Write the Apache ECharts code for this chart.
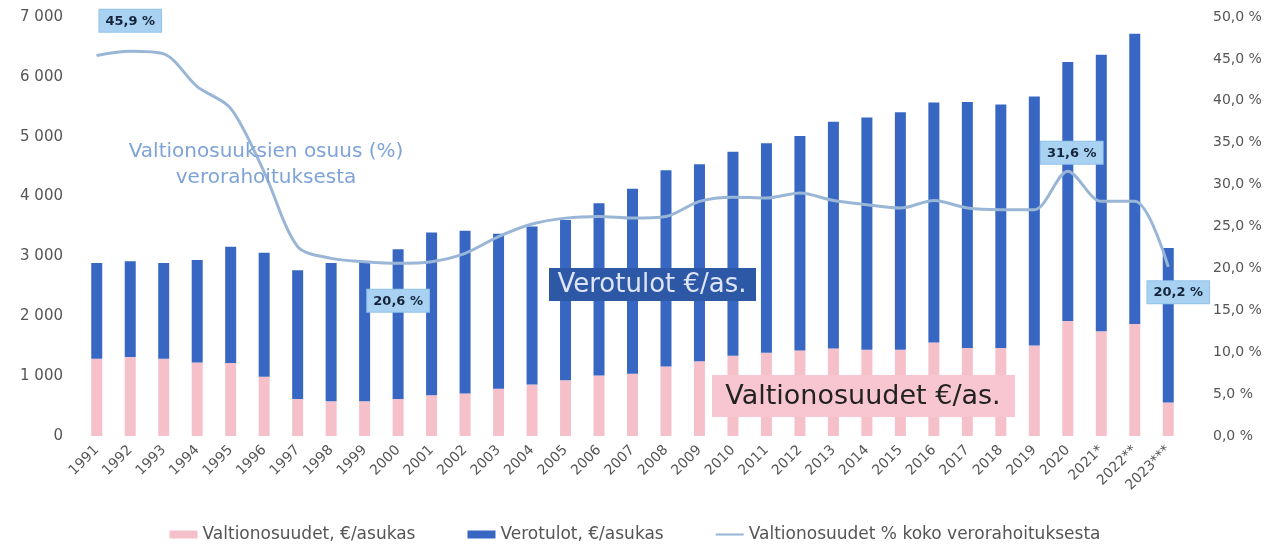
<!DOCTYPE html>
<html><head><meta charset="utf-8">
<script src="https://cdn.jsdelivr.net/npm/echarts@6/dist/echarts.min.js"></script>
<style>html,body{margin:0;padding:0;background:#fff}#c{width:1270px;height:552px}</style>
</head><body><div id="c"></div>
<script>
const categories = ['1991','1992','1993','1994','1995','1996','1997','1998','1999','2000','2001','2002','2003','2004','2005','2006','2007','2008','2009','2010','2011','2012','2013','2014','2015','2016','2017','2018','2019','2020','2021*','2022**','2023***'];
const valtionosuudet = [1290,1320,1290,1230,1220,990,620,580,580,620,680,710,790,860,930,1010,1040,1160,1250,1340,1390,1430,1460,1440,1440,1560,1470,1470,1510,1920,1750,1870,560];
const verotulot = [1600,1600,1600,1710,1940,2070,2150,2310,2340,2500,2720,2720,2590,2640,2680,2880,3090,3280,3290,3410,3500,3580,3790,3880,3970,4010,4110,4070,4160,4330,4620,4850,2580];
const osuusPct = [45.4,45.9,45.6,41.7,39.1,31.5,22.6,21.2,20.8,20.6,20.8,21.8,23.8,25.3,26.0,26.2,26.0,26.2,28.0,28.5,28.4,29.0,28.1,27.6,27.2,28.1,27.2,27.0,27.0,31.6,28.0,28.0,20.2];
const leftTicks = [0,1000,2000,3000,4000,5000,6000,7000];
const rightTicks = [0,5,10,15,20,25,30,35,40,45,50];
const labelled = {1:{pos:'top',dist:19,off:[0,0]},9:{pos:'bottom',dist:26,off:[0,0]},29:{pos:'top',dist:7,off:[4,0]},32:{pos:'bottom',dist:14,off:[10,0]}};

const FONT = 'DejaVu Sans';
const fmtPct = v => v.toFixed(1).replace('.', ',') + ' %';
const fmtThousand = v => String(v).replace(/\B(?=(\d{3})+(?!\d))/g, ' ');

const lineData = osuusPct.map((v,i) => {
  const l = labelled[i];
  if (!l) return v;
  return {value: v, label: {show: true, position: l.pos, distance: l.dist, offset: l.off,
    formatter: p => fmtPct(p.value), color: '#14243a', fontWeight: 'bold', fontSize: 13,
    fontFamily: FONT, backgroundColor: '#a9d1f2', borderColor: '#93c3ea', borderWidth: 1, padding: [5,6,4,6]}};
});

const chart = echarts.init(document.getElementById('c'));
chart.setOption({
  animation: false,
  textStyle: {fontFamily: FONT},
  grid: {left: 80, right: 85, top: 17, bottom: 116},
  legend: {
    bottom: 4, left: 'center', itemGap: 52, itemWidth: 28, itemHeight: 8,
    textStyle: {color: '#555', fontSize: 17, fontFamily: FONT},
    data: [{name: 'Valtionosuudet, €/asukas', icon: 'rect'}, {name: 'Verotulot, €/asukas', icon: 'rect'},
           {name: 'Valtionosuudet % koko verorahoituksesta', icon: 'path://M0,0 L40,0 L40,3 L0,3 Z'}]
  },
  xAxis: {
    type: 'category', data: categories,
    axisLine: {show: false}, axisTick: {show: false},
    axisLabel: {rotate: 45, color: '#555', fontSize: 14, margin: 12, interval: 0, fontFamily: FONT}
  },
  yAxis: [
    {type: 'value', min: 0, max: 7000, interval: 1000, splitLine: {show: false},
     axisLabel: {color: '#555', fontSize: 15, margin: 17, fontFamily: FONT, formatter: v => fmtThousand(v)}},
    {type: 'value', min: 0, max: 50, interval: 5, splitLine: {show: false},
     axisLabel: {color: '#555', fontSize: 14, margin: 28, fontFamily: FONT, formatter: v => fmtPct(v)}}
  ],
  series: [
    {name: 'Valtionosuudet, €/asukas', type: 'bar', stack: 'a', data: valtionosuudet, barWidth: 11,
     itemStyle: {color: '#f6c0cb'}},
    {name: 'Verotulot, €/asukas', type: 'bar', stack: 'a', data: verotulot, barWidth: 11,
     itemStyle: {color: '#3767c2'}},
    {name: 'Valtionosuudet % koko verorahoituksesta', type: 'line', yAxisIndex: 1, data: lineData,
     smooth: 0.3, symbol: 'circle', symbolSize: 1, showSymbol: true, showAllSymbol: true,
     lineStyle: {color: '#9ab6d6', width: 3}, itemStyle: {color: '#9ab6d6'}, z: 5}
  ],
  graphic: [
    {type: 'text', x: 266, y: 165, z: 100, style: {text: 'Valtionosuuksien osuus (%)\nverorahoituksesta', fill: '#7ea3d6', fontSize: 20, fontFamily: FONT, align: 'center', verticalAlign: 'middle', lineHeight: 26}},
    {type: 'rect', x: 549, y: 268, z: 100, shape: {x: 0, y: 0, width: 207, height: 33}, style: {fill: '#2c58a6'}},
    {type: 'text', x: 652, y: 285, z: 101, style: {text: 'Verotulot €/as.', fill: '#dfe5f7', fontSize: 26, fontFamily: FONT, align: 'center', verticalAlign: 'middle'}},
    {type: 'rect', x: 712, y: 375, z: 100, shape: {x: 0, y: 0, width: 303, height: 42}, style: {fill: '#f7c6d0'}},
    {type: 'text', x: 863, y: 397, z: 101, style: {text: 'Valtionosuudet €/as.', fill: '#222', fontSize: 27, fontFamily: FONT, align: 'center', verticalAlign: 'middle'}}
  ]
});
</script></body></html>
